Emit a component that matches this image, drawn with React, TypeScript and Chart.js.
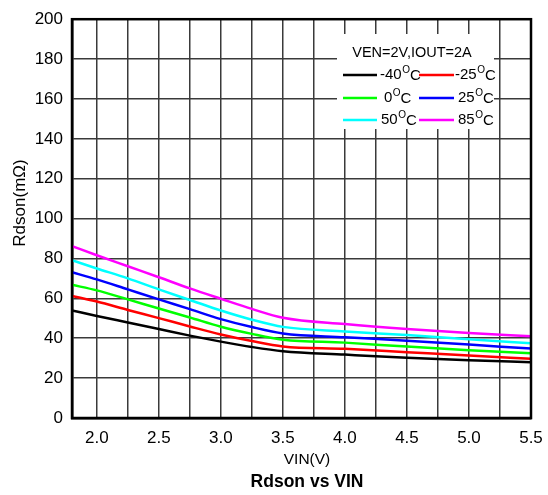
import React, { useEffect, useRef } from 'react';
import { Chart, registerables } from 'chart.js';

Chart.register(...registerables);

const vin = [1.8, 2.0, 2.25, 2.5, 2.75, 3.0, 3.25, 3.5, 4.0, 4.5, 5.0, 5.5];
const xTicks = [1.8, 2.0, 2.25, 2.5, 2.75, 3.0, 3.25, 3.5, 3.75, 4.0, 4.25, 4.5, 4.75, 5.0, 5.25, 5.5];
const temps = ['-40', '-25', '0', '25', '50', '85'];
const colors = ['#000000', '#ff0000', '#00ff00', '#0000ff', '#00ffff', '#ff00ff'];
const rM40 = [53.9, 51.2, 47.9, 44.6, 41.3, 38.3, 35.6, 33.5, 31.8, 30.2, 28.9, 28.0];
const rM25 = [61.2, 58.4, 54.2, 50.1, 45.9, 41.9, 38.6, 35.9, 34.7, 33.0, 31.3, 29.7];
const r0 = [66.8, 64.0, 59.5, 54.9, 50.4, 45.8, 42.2, 39.3, 37.8, 35.8, 34.0, 32.5];
const r25 = [73.1, 69.5, 64.5, 59.5, 54.6, 49.6, 45.6, 42.4, 40.5, 38.8, 36.8, 34.8];
const r50 = [79.1, 75.0, 70.0, 64.5, 59.2, 53.9, 49.3, 45.7, 43.4, 41.6, 39.5, 37.5];
const r85 = [86.2, 81.6, 76.1, 70.6, 65.0, 59.8, 54.7, 50.3, 47.1, 44.6, 42.6, 41.0];
const series = [rM40, rM25, r0, r25, r50, r85];
const legendTitle = 'VEN=2V,IOUT=2A';
const xTitle = 'VIN(V)';
const yTitle = 'Rdson(mΩ)';
const chartTitle = 'Rdson vs VIN';

const FONT = "'Liberation Sans', Arial, sans-serif";

function drawTemp(ctx: CanvasRenderingContext2D, x: number, y: number, num: string) {
  ctx.textAlign = 'left';
  ctx.textBaseline = 'middle';
  ctx.font = `15px ${FONT}`;
  ctx.fillText(num, x, y);
  let w = ctx.measureText(num).width;
  ctx.font = `10px ${FONT}`;
  ctx.fillText('O', x + w + 0.5, y - 5);
  w += ctx.measureText('O').width + 0.5;
  ctx.font = `15px ${FONT}`;
  ctx.fillText('C', x + w, y + 0.5);
}

const overlayPlugin = {
  id: 'overlay',
  afterDatasetsDraw(chart: any) {
    const ctx: CanvasRenderingContext2D = chart.ctx;
    const a = chart.chartArea;
    ctx.save();
    // legend box
    ctx.fillStyle = '#ffffff';
    ctx.fillRect(337, 34, 157, 95);
    ctx.fillStyle = '#000000';
    ctx.font = `14.5px ${FONT}`;
    ctx.textAlign = 'center';
    ctx.textBaseline = 'middle';
    ctx.fillText(legendTitle, 412, 53);
    const rows = [75, 98, 120];
    const lineX = [[343, 377], [419, 454]];
    const textX = [[380, 455], [384, 458], [381, 458]];
    temps.forEach((t, i) => {
      const r = Math.floor(i / 2);
      const c = i % 2;
      const y = rows[r];
      ctx.strokeStyle = colors[i];
      ctx.lineWidth = 2.5;
      ctx.beginPath();
      ctx.moveTo(lineX[c][0], y);
      ctx.lineTo(lineX[c][1], y);
      ctx.stroke();
      ctx.fillStyle = '#000000';
      drawTemp(ctx, textX[r][c], y, t);
    });
    // frame
    ctx.strokeStyle = '#000000';
    ctx.lineWidth = 2.5;
    ctx.strokeRect(a.left, a.top, a.right - a.left, a.bottom - a.top);
    // titles
    ctx.fillStyle = '#000000';
    ctx.textAlign = 'center';
    ctx.textBaseline = 'middle';
    ctx.font = `15.5px ${FONT}`;
    ctx.fillText(xTitle, 307, 460);
    ctx.font = `bold 17.5px ${FONT}`;
    ctx.fillText(chartTitle, 307, 482);
    ctx.translate(20, 203);
    ctx.rotate(-Math.PI / 2);
    ctx.font = `17px ${FONT}`;
    ctx.fillText(yTitle, 0, 0);
    ctx.restore();
  },
};

export default function App() {
  const ref = useRef<HTMLCanvasElement | null>(null);
  useEffect(() => {
    if (!ref.current) return;
    const chart = new Chart(ref.current, {
      type: 'line',
      data: {
        datasets: series.map((s, i) => ({
          label: temps[i] + '°C',
          data: s.map((v, j) => ({ x: vin[j], y: v })),
          borderColor: colors[i],
          backgroundColor: colors[i],
          borderWidth: 2.5,
          pointRadius: 0,
          cubicInterpolationMode: 'monotone' as const,
          fill: false,
        })),
      },
      options: {
        animation: false,
        responsive: false,
        devicePixelRatio: 1,
        layout: { padding: { left: 0, top: 16, right: 17, bottom: 0 } },
        plugins: {
          legend: { display: false },
          title: { display: false },
          tooltip: { enabled: false },
        },
        scales: {
          x: {
            type: 'linear',
            min: 1.8,
            max: 5.5,
            afterFit: (s: any) => { s.height = 77; },
            afterBuildTicks: (s: any) => { s.ticks = xTicks.map((v) => ({ value: v })); },
            ticks: {
              autoSkip: false,
              maxRotation: 0,
              padding: 0,
              color: '#000000',
              font: { family: FONT, size: 17 },
              callback: (v: any) => {
                const n = Number(v);
                if (n < 1.9) return '';
                return Math.abs(n * 2 - Math.round(n * 2)) < 1e-6 ? n.toFixed(1) : '';
              },
            },
            grid: { color: '#3a3a3a', lineWidth: 1.5, drawTicks: true, tickLength: 10, tickColor: 'rgba(0,0,0,0)' },
            border: { color: '#000000', width: 2.5 },
          },
          y: {
            min: 0,
            max: 200,
            afterFit: (s: any) => { s.width = 72; },
            ticks: {
              stepSize: 20,
              padding: 9,
              color: '#000000',
              font: { family: FONT, size: 17 },
            },
            grid: { color: '#3a3a3a', lineWidth: 1.5, drawTicks: false },
            border: { color: '#000000', width: 2.5 },
          },
        },
      },
      plugins: [overlayPlugin],
    });
    return () => chart.destroy();
  }, []);
  return (
    <div style={{ position: 'fixed', left: 0, top: 0, width: 548, height: 495, background: '#fff' }}>
      <canvas ref={ref} width={548} height={495} style={{ width: 548, height: 495 }} />
    </div>
  );
}
